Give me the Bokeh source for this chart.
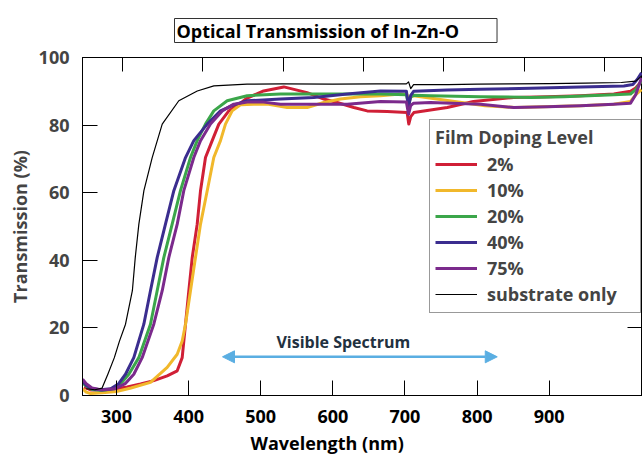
from bokeh.plotting import figure
from bokeh.models import (Range1d, LinearAxis, FixedTicker, Legend, LegendItem,
                          Label, Arrow, NormalHead, Title, CustomJSTickFormatter)
from bokeh.embed import file_html
from bokeh.resources import INLINE

# ---------------- data (wavelength in nm as labelled on the bottom axis, transmission in %) ----------------
wl_2 = [255, 265, 280, 296.3, 315, 333.3, 351.7, 370.3, 384.2, 391.1, 395.7, 400.3, 405, 411.9, 416.5, 423.4,
        432.7, 441.9, 455.7, 471.9, 481.2, 504, 532, 564.4, 587.5, 606, 629.1, 647.6, 675.4, 703, 705.3, 708,
        712.3, 758.6, 795, 850.9, 897.2, 943.4, 989.6, 1012.8, 1020, 1028]
t_2 = [2.5, 1.6, 1.6, 1.9, 2.5, 3.4, 4.4, 5.8, 7.3, 11.2, 21.1, 31, 40.8, 50.7, 60.6, 70.4,
       75.4, 80.3, 84.2, 86.5, 88.0, 90.1, 91.3, 89.6, 87.7, 86.7, 85.2, 84.2, 84.0, 83.7, 80.3, 82.5,
       83.7, 85.2, 87.0, 88.2, 88.4, 88.7, 89.2, 90.0, 91.0, 93.0]

wl_10 = [253, 258, 264, 280, 300, 320, 347.1, 370.3, 384.2, 391.1, 395.7, 402.6, 409.5, 416.5, 425.8, 434.9,
         444.2, 451.1, 460.4, 471.9, 490.4, 509, 536.7, 564.4, 587.5, 610.6, 638.3, 666.1, 693.8, 703, 705.3,
         708, 712, 744, 811, 853, 943.4, 989.6, 1012.8, 1020, 1028]
t_10 = [2.0, 1.0, 0.6, 0.8, 1.2, 2.2, 3.9, 8.3, 12.2, 16.1, 21.1, 31, 40.8, 50.7, 60.6, 70.4,
        75.4, 80.3, 84.2, 86.0, 86.2, 86.2, 85.2, 85.2, 86.7, 87.7, 88.4, 88.7, 89.2, 89.0, 86.5,
        88.5, 88.7, 87.7, 85.7, 85.2, 85.7, 86.2, 87.0, 89.0, 90.5]

wl_20 = [253, 258, 266, 280, 296, 307.9, 317.1, 330.9, 347.1, 356.4, 365.6, 377.2, 388.7, 402.6, 411.9, 423.4,
         434.9, 453.5, 481.2, 527.4, 573.6, 619.9, 666.1, 702, 705, 708, 712, 735.4, 804.7, 874.1, 920.3,
         989.6, 1012.8, 1020, 1028]
t_20 = [3.8, 2.8, 1.8, 1.5, 2.0, 4.0, 6.3, 11.2, 21.1, 31, 40.8, 50.7, 60.6, 70.4, 75.4, 80.3,
        84.2, 87.2, 88.7, 89.2, 89.2, 89.2, 89.2, 89.0, 86.0, 88.3, 88.8, 88.7, 88.4, 88.2, 88.4,
        89.0, 89.2, 90.5, 93.0]

wl_40 = [253, 258, 266, 278, 292, 303, 312.5, 324, 337.9, 347.1, 356.4, 367.9, 379.5, 395.7, 407.2, 425.8,
         444.2, 462.7, 481.2, 527.4, 573.6, 619.9, 666.1, 702, 705, 708, 712, 758.6, 804.7, 874.1, 943.4,
         1003.5, 1016, 1022, 1028]
t_40 = [4.3, 3.0, 2.0, 1.7, 2.0, 3.5, 6.3, 11.2, 21.1, 31, 40.8, 50.7, 60.6, 70.4, 75.4, 80.3,
        84.2, 86.0, 87.2, 87.7, 88.2, 89.2, 90.1, 90.0, 85.2, 88.8, 90.0, 90.4, 90.6, 90.9, 91.3,
        91.6, 92.0, 93.5, 95.5]

wl_75 = [253, 258, 266, 280, 298, 312, 324, 335.6, 351.7, 363.4, 372.5, 384.2, 393.3, 407.2, 416.5, 430.3,
         446.6, 462.7, 481.2, 504, 527.4, 573.6, 619.9, 666.1, 702, 705, 708, 712, 735.4, 804.7, 850.9,
         897.2, 943.4, 989.6, 1012.8, 1020, 1028]
t_75 = [4.8, 3.5, 2.2, 1.6, 2.0, 3.5, 6.3, 11.2, 21.1, 31, 40.8, 50.7, 60.6, 70.4, 75.4, 80.3,
        84.2, 86.2, 86.8, 86.8, 86.2, 86.2, 86.2, 87.0, 86.8, 83.2, 85.8, 86.5, 86.7, 86.2, 85.2,
        85.4, 85.7, 86.2, 86.5, 89.0, 94.0]

wl_sub = [258, 270, 280, 288, 297, 304, 312.5, 322, 326, 331, 338, 349.5, 363.4, 386.4, 412, 435,
          481, 530, 600, 660, 702, 705, 708, 712, 760, 800, 850, 900, 950, 1000, 1020, 1028]
t_sub = [2.0, 1.7, 2.2, 6.3, 11.2, 16.0, 21.1, 31, 40.8, 50.7, 60.6, 70.4, 80.3, 87.2, 90.1, 91.6,
         92.1, 92.2, 92.1, 92.2, 92.2, 92.8, 90.8, 92.0, 92.0, 92.1, 92.2, 92.3, 92.4, 92.6, 93.0, 94.5]

series_labels = ["2%", "10%", "20%", "40%", "75%", "substrate only"]
series_colors = ["#d01f36", "#f1b82b", "#3ba64a", "#3b2d8f", "#7b2a8c", "#000000"]

x_ticks = [300, 400, 500, 600, 700, 800, 900]
y_ticks = [0, 20, 40, 60, 80, 100]

title_text = "Optical Transmission of In-Zn-O"
x_label = "Wavelength (nm)"
y_label = "Transmission (%)"
legend_title = "Film Doping Level"
band_label = "Visible Spectrum"
band_start, band_end = 447, 828

FONT = "Open Sans"

p = figure(width=642, height=458, output_backend="svg", toolbar_location=None,
           x_range=Range1d(252.85, 1029.4), y_range=Range1d(0, 100),
           x_axis_location=None, y_axis_location=None,
           min_border_left=82, min_border_right=0, min_border_top=57, min_border_bottom=63)
p.extra_x_ranges = {"top": Range1d(250.2, 947.3)}
p.xgrid.visible = False
p.ygrid.visible = False
p.outline_line_color = "black"
p.outline_line_width = 1
p.background_fill_color = "white"
p.border_fill_color = "white"

# boxed title
p.title.text = title_text
p.title.align = "left"
p.title.offset = 92
p.title.text_font = FONT
p.title.text_font_style = "bold"
p.title.text_font_size = "18px"
p.title.text_color = "black"
p.title.border_line_color = "#333333"
p.title.border_line_width = 1
p.title.background_fill_color = "white"
p.title.padding = dict(left=2, right=38, top=0, bottom=0)
p.title.standoff = 30

# bottom axis
xb = LinearAxis(ticker=FixedTicker(ticks=x_ticks))
xb.major_tick_in = 15
xb.major_tick_out = 0
xb.minor_tick_line_color = None
xb.major_label_standoff = 14
xb.major_label_text_font = FONT
xb.major_label_text_font_style = "bold"
xb.major_label_text_font_size = "18px"
xb.major_label_text_color = "black"
p.add_layout(xb, "below")

# x axis title, left-aligned under the tick labels as in the original
p.add_layout(Title(text=x_label, align="left", offset=168, standoff=7,
                   text_font=FONT, text_font_style="bold", text_font_size="18px",
                   text_color="black"), "below")

# left axis
yl = LinearAxis(ticker=FixedTicker(ticks=y_ticks), axis_label=y_label)
yl.major_tick_in = 15
yl.major_tick_out = 0
yl.minor_tick_line_color = None
yl.major_label_standoff = 13
yl.major_label_text_font = FONT
yl.major_label_text_font_style = "bold"
yl.major_label_text_font_size = "18px"
yl.axis_label_text_font = FONT
yl.axis_label_text_font_style = "bold"
yl.axis_label_text_font_size = "18px"
yl.axis_label_standoff = 4
p.add_layout(yl, "left")

blank = CustomJSTickFormatter(code="return ''")

# top axis (tick marks only)
xt = LinearAxis(x_range_name="top", ticker=FixedTicker(ticks=x_ticks), formatter=blank)
xt.major_tick_in = 14
xt.major_tick_out = 0
xt.minor_tick_line_color = None
xt.major_label_text_color = None
xt.major_label_standoff = 0
p.add_layout(xt, "above")

# right axis (tick marks only)
yr = LinearAxis(ticker=FixedTicker(ticks=y_ticks), formatter=blank)
yr.major_tick_in = 15
yr.major_tick_out = 0
yr.minor_tick_line_color = None
yr.major_label_text_color = None
yr.major_label_standoff = 0
p.add_layout(yr, "right")

all_wl = [wl_2, wl_10, wl_20, wl_40, wl_75, wl_sub]
all_t = [t_2, t_10, t_20, t_40, t_75, t_sub]
items = []
for wl, t, lab, col in zip(all_wl, all_t, series_labels, series_colors):
    lw = 1.2 if lab == "substrate only" else 3
    r = p.line(wl, t, line_color=col, line_width=lw, line_join="round")
    items.append(LegendItem(label=lab, renderers=[r]))

legend = Legend(items=items, location=(347, 82), title=legend_title)
legend.title_text_font = FONT
legend.title_text_font_style = "bold"
legend.title_text_font_size = "18px"
legend.title_standoff = 2
legend.label_text_font = FONT
legend.label_text_font_style = "bold"
legend.label_text_font_size = "18px"
legend.label_height = 26
legend.glyph_height = 26
legend.glyph_width = 42
legend.label_standoff = 10
legend.label_width = 148
legend.spacing = 0
legend.padding = 5
legend.margin = 0
legend.border_line_color = "#333333"
legend.border_line_width = 1.5
legend.background_fill_alpha = 1
p.add_layout(legend, "center")

# visible spectrum arrow
p.add_layout(Arrow(x_start=band_start, y_start=11.45, x_end=band_end, y_end=11.45,
                   line_color="#5aaee2", line_width=2.5,
                   start=NormalHead(size=12, fill_color="#5aaee2", line_color="#5aaee2"),
                   end=NormalHead(size=12, fill_color="#5aaee2", line_color="#5aaee2")))
p.add_layout(Label(x=(band_start + band_end) / 2 - 23, y=15.8, text=band_label,
                   text_align="center", text_baseline="middle",
                   text_font=FONT, text_font_style="bold", text_font_size="16px",
                   text_color="#22313f"))

open("out.html", "w").write(file_html(p, INLINE))
